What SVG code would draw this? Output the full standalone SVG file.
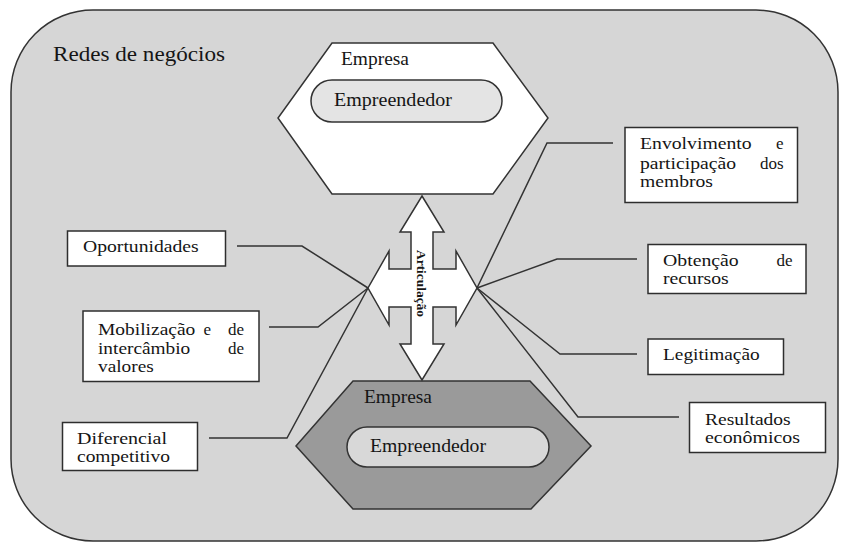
<svg xmlns="http://www.w3.org/2000/svg" width="842" height="543" viewBox="0 0 842 543">
<style>
.t{font-size:17px;}
.s{font-size:16px;}
.h{font-size:18px;}
.box{fill:#ffffff;stroke:#2e2e2e;stroke-width:1.5;}
.con{fill:none;stroke:#333333;stroke-width:1.5;}
</style>
<g font-family="Liberation Serif, DejaVu Serif, Times New Roman, serif" fill="#151515">
<rect id="background" x="11" y="10" width="827" height="531" rx="82" ry="82" fill="#d6d6d6" stroke="#333333" stroke-width="1.5"/>
<text x="53" y="61" font-size="21" textLength="172" lengthAdjust="spacingAndGlyphs">Redes de negócios</text>

<g id="connectors">
<polyline class="con" points="237,246 302,246 368,288"/>
<polyline class="con" points="269,327 318,327 368,288"/>
<polyline class="con" points="209,438 287,438 368,288"/>
<polyline class="con" points="613,143 547,143 477,288"/>
<polyline class="con" points="637,259 557,259 477,288"/>
<polyline class="con" points="637,354 560,354 477,288"/>
<polyline class="con" points="679,417 578,417 477,288"/>
</g>

<g id="empresa-top">
<polygon points="332,43 493,43 548,118 493,194 332,194 278,118" fill="#ffffff" stroke="#333333" stroke-width="1.5"/>
<text class="h" x="341" y="65" textLength="68" lengthAdjust="spacingAndGlyphs">Empresa</text>
<rect x="311" y="80" width="191" height="42" rx="21" ry="21" fill="#e4e4e4" stroke="#333333" stroke-width="1.5"/>
<text class="h" x="334" y="106" textLength="118" lengthAdjust="spacingAndGlyphs">Empreendedor</text>
</g>

<g id="empresa-bottom">
<polygon points="353,381 530,381 591,446 531,509 353,509 296,446" fill="#9a9a9a" stroke="#333333" stroke-width="1.5"/>
<text class="h" x="364" y="403" textLength="68" lengthAdjust="spacingAndGlyphs">Empresa</text>
<rect x="347" y="427" width="202" height="40" rx="20" ry="20" fill="#d8d8d8" stroke="#333333" stroke-width="1.5"/>
<text class="h" x="370" y="452" textLength="116" lengthAdjust="spacingAndGlyphs">Empreendedor</text>
</g>

<g id="articulacao">
<path d="M422,196 L444,232 L433,232 L433,269 L456,269 L456,251 L477,288 L456,325 L456,307 L433,307 L433,344 L444,344 L422,380 L400,344 L411,344 L411,307 L389,307 L389,325 L368,288 L389,251 L389,269 L411,269 L411,232 L400,232 Z" fill="#ffffff" stroke="#333333" stroke-width="1.5" stroke-linejoin="miter"/>
<text x="416.5" y="283.5" font-size="13.5" font-weight="bold" text-anchor="middle" textLength="67" lengthAdjust="spacingAndGlyphs" transform="rotate(90 416.5 283.5)">Articulação</text>
</g>

<g id="oportunidades">
<rect class="box" x="67.5" y="231" width="158" height="35"/>
<text class="t" x="83" y="252" textLength="115.7" lengthAdjust="spacingAndGlyphs">Oportunidades</text>
</g>

<g id="mobilizacao">
<rect class="box" x="83" y="311" width="176" height="70.5"/>
<text class="t" x="98" y="334.5" textLength="97.3" lengthAdjust="spacingAndGlyphs">Mobilização</text>
<text class="t" x="203.5" y="334.5">e</text>
<text class="t" x="244" y="334.5" text-anchor="end">de</text>
<text class="t" x="98" y="353.5" textLength="92.3" lengthAdjust="spacingAndGlyphs">intercâmbio</text>
<text class="t" x="244" y="353.5" text-anchor="end">de</text>
<text class="t" x="98" y="372" textLength="55.7" lengthAdjust="spacingAndGlyphs">valores</text>
</g>

<g id="diferencial">
<rect class="box" x="62.5" y="422.5" width="135" height="48"/>
<text class="t" x="77" y="444" textLength="90" lengthAdjust="spacingAndGlyphs">Diferencial</text>
<text class="t" x="77" y="462" textLength="93" lengthAdjust="spacingAndGlyphs">competitivo</text>
</g>

<g id="envolvimento">
<rect class="box" x="625" y="127.5" width="172.5" height="75"/>
<text class="t" x="640" y="149" textLength="111.7" lengthAdjust="spacingAndGlyphs">Envolvimento</text>
<text class="t" x="783.5" y="149" text-anchor="end">e</text>
<text class="t" x="640" y="168.5" textLength="96" lengthAdjust="spacingAndGlyphs">participação</text>
<text class="t" x="783.5" y="168.5" text-anchor="end">dos</text>
<text class="t" x="640" y="186.5" textLength="73" lengthAdjust="spacingAndGlyphs">membros</text>
</g>

<g id="obtencao">
<rect class="box" x="648" y="244.5" width="158" height="49"/>
<text class="t" x="663" y="266" textLength="75.7" lengthAdjust="spacingAndGlyphs">Obtenção</text>
<text class="t" x="792.5" y="266" text-anchor="end">de</text>
<text class="t" x="663" y="283.5" textLength="65.7" lengthAdjust="spacingAndGlyphs">recursos</text>
</g>

<g id="legitimacao">
<rect class="box" x="648" y="339" width="135.5" height="35.5"/>
<text class="t" x="663" y="359.5" textLength="96.7" lengthAdjust="spacingAndGlyphs">Legitimação</text>
</g>

<g id="resultados">
<rect class="box" x="689.5" y="402.5" width="136" height="50"/>
<text class="s" x="705" y="425" textLength="85.7" lengthAdjust="spacingAndGlyphs">Resultados</text>
<text class="s" x="705" y="443" textLength="95" lengthAdjust="spacingAndGlyphs">econômicos</text>
</g>
</g>
</svg>
